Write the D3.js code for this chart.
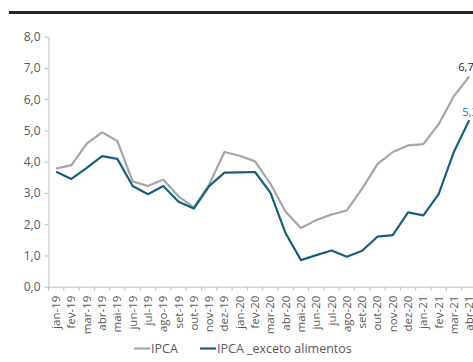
<!DOCTYPE html>
<html><head><meta charset="utf-8">
<script src="https://cdn.jsdelivr.net/npm/d3@7"></script>
<style>body{margin:0;background:#fff}svg{display:block}</style>
</head><body>
<svg id="c" width="473" height="362"></svg>
<script>
const months = ["jan-19","fev-19","mar-19","abr-19","mai-19","jun-19","jul-19","ago-19","set-19","out-19","nov-19","dez-19",
"jan-20","fev-20","mar-20","abr-20","mai-20","jun-20","jul-20","ago-20","set-20","out-20","nov-20","dez-20",
"jan-21","fev-21","mar-21","abr-21"];
const ipca = [3.78,3.89,4.58,4.94,4.66,3.37,3.22,3.43,2.89,2.54,3.27,4.31,4.19,4.01,3.30,2.40,1.88,2.13,2.31,2.44,3.14,3.92,4.31,4.52,4.56,5.20,6.10,6.73];
const ipcaExAlim = [3.68,3.45,3.80,4.18,4.09,3.22,2.96,3.22,2.72,2.50,3.22,3.65,3.66,3.67,3.01,1.71,0.85,1.01,1.16,0.96,1.15,1.60,1.65,2.38,2.28,2.96,4.32,5.33];
const yTicks = [0,1,2,3,4,5,6,7,8];
const seriesNames = ["IPCA","IPCA _exceto alimentos"];

const svg = d3.select("#c");
const font = "'Open Sans', sans-serif";
const x0 = 48.5, band = 15.3;
const x = d3.scaleBand().domain(months).range([x0, x0 + band*months.length]);
const y = d3.scaleLinear().domain([0,8]).range([286.7, 36.7]);
const fmt = v => d3.format(".1f")(v).replace(".", ",");

// top rule
svg.append("line").attr("x1",9).attr("x2",473).attr("y1",12.5).attr("y2",12.5)
  .attr("stroke","#262626").attr("stroke-width",3);

// y axis
const ya = svg.append("g").attr("transform",`translate(${x0},0)`)
  .call(d3.axisLeft(y).tickValues(yTicks).tickFormat(fmt).tickSize(4).tickSizeOuter(0));
ya.select(".domain").attr("stroke","#bfbfbf");
ya.selectAll(".tick line").attr("stroke","#bfbfbf");
ya.selectAll("text").attr("fill","#595959").attr("font-family",font).attr("font-size","12px").attr("x",-8);

// x axis
const xa = svg.append("g").attr("transform",`translate(0,${y(0)})`)
  .call(d3.axisBottom(x).tickSize(0).tickSizeOuter(0));
xa.select(".domain").attr("stroke","#bfbfbf");
xa.selectAll(".tick line").remove();
xa.selectAll(".tick text").attr("fill","#595959").attr("font-family",font).attr("font-size","11.5px")
  .attr("transform","rotate(-90)").attr("text-anchor","end").attr("x",-9).attr("y",0).attr("dy","0.35em");
// tick marks at band boundaries
const bounds = d3.range(months.length+1).map(i => x0 + i*band);
svg.append("g").selectAll("line").data(bounds).join("line")
  .attr("x1",d=>d).attr("x2",d=>d).attr("y1",y(0)).attr("y2",y(0)+4).attr("stroke","#bfbfbf");

const cx = d => x(d) + x.bandwidth()/2;
const line = d3.line().x((d,i)=>cx(months[i])).y(d=>y(d));
svg.append("path").datum(ipca).attr("d",line).attr("fill","none").attr("stroke","#a6a6a6").attr("stroke-width",2.2).attr("stroke-linejoin","round");
svg.append("path").datum(ipcaExAlim).attr("d",line).attr("fill","none").attr("stroke","#17607d").attr("stroke-width",2.2).attr("stroke-linejoin","round");

// end labels
const last = months.length-1;
svg.append("text").attr("x",cx(months[last])-11).attr("y",y(ipca[last])-5).text(fmt(ipca[last]))
  .attr("fill","#262626").attr("font-family",font).attr("font-size","11px");
svg.append("text").attr("x",cx(months[last])-7).attr("y",y(ipcaExAlim[last])-4).text(fmt(ipcaExAlim[last]))
  .attr("fill","#2e7aa0").attr("font-family",font).attr("font-size","11px");

// legend
const lg = svg.append("g").attr("font-family",font).attr("font-size","12.5px").attr("fill","#595959");
const items = [{n:seriesNames[0],c:"#a6a6a6",x:134},{n:seriesNames[1],c:"#17607d",x:200}];
items.forEach(it=>{
  lg.append("line").attr("x1",it.x).attr("x2",it.x+16).attr("y1",348.5).attr("y2",348.5).attr("stroke",it.c).attr("stroke-width",2.2);
  lg.append("text").attr("x",it.x+17).attr("y",348.5).attr("dy","0.35em").text(it.n);
});
</script>
</body></html>
